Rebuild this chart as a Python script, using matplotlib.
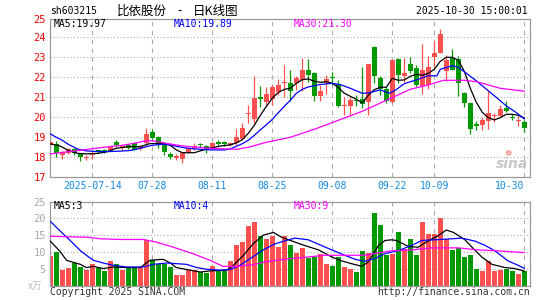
import numpy as np
import matplotlib.pyplot as plt

# 日K线 (2025-07-03 ~ 2025-10-30, 80 trading days)
opens = [18.60, 18.68, 18.12, 18.23, 18.40, 18.17, 17.98, 18.12, 18.33, 18.36,
         18.33, 18.78, 18.45, 18.60, 18.73, 18.40, 18.70, 19.28, 19.03, 18.62,
         18.17, 17.95, 17.93, 18.23, 18.48, 18.63, 18.57, 18.48, 18.78, 18.77,
         18.62, 18.70, 18.92, 20.15, 19.90, 21.03, 20.78, 20.90, 21.28, 21.70,
         21.72, 21.70, 21.87, 22.37, 22.20, 21.08, 21.70, 22.02, 21.65, 20.55,
         20.58, 20.85, 20.92, 20.78, 23.52, 21.97, 21.42, 20.75, 22.92, 22.05,
         22.68, 22.45, 21.58, 21.62, 23.03, 23.20, 22.33, 22.95, 22.92, 21.22,
         20.72, 19.67, 19.62, 19.83, 20.05, 20.05, 20.45, 20.00, 19.80, 19.78]
highs = [18.95, 18.80, 18.32, 18.45, 18.45, 18.20, 18.12, 18.35, 18.38, 18.42,
         18.55, 18.87, 18.62, 18.65, 18.75, 18.60, 19.45, 19.42, 19.07, 18.65,
         18.28, 18.17, 18.22, 18.53, 18.70, 18.70, 18.60, 18.75, 18.87, 18.80,
         18.75, 19.42, 19.70, 20.60, 22.08, 21.57, 21.53, 21.60, 21.90, 22.60,
         22.37, 22.05, 22.98, 22.90, 22.28, 21.62, 22.12, 22.25, 21.87, 21.00,
         21.00, 21.10, 22.53, 22.67, 23.55, 22.08, 21.52, 22.92, 22.97, 22.98,
         23.00, 22.62, 23.67, 23.07, 23.83, 24.42, 23.10, 23.40, 23.05, 21.25,
         20.78, 19.80, 20.00, 21.33, 20.22, 20.62, 20.83, 20.17, 20.08, 19.87]
lows = [18.40, 18.03, 17.90, 18.18, 18.12, 17.83, 17.87, 17.90, 18.20, 18.22,
        18.30, 18.53, 18.37, 18.40, 18.35, 18.37, 18.62, 18.90, 18.45, 18.12,
        17.90, 17.87, 17.73, 18.20, 18.37, 18.50, 18.20, 18.45, 18.55, 18.55,
        18.55, 18.62, 18.85, 19.70, 19.70, 20.53, 20.60, 20.62, 21.10, 21.00,
        20.80, 21.35, 21.30, 21.78, 20.80, 20.80, 21.15, 21.60, 20.53, 20.12,
        20.10, 20.55, 20.48, 20.10, 21.70, 21.12, 20.70, 20.70, 21.72, 21.75,
        22.20, 21.52, 21.17, 21.40, 22.58, 23.20, 21.83, 22.35, 21.08, 20.50,
        19.17, 19.35, 19.35, 19.42, 19.75, 20.05, 20.27, 19.85, 19.57, 19.25]
closes = [18.75, 18.23, 18.28, 18.40, 18.20, 18.03, 18.02, 18.22, 18.30, 18.33,
          18.53, 18.60, 18.57, 18.48, 18.37, 18.57, 19.17, 18.95, 18.73, 18.28,
          18.00, 18.07, 18.20, 18.45, 18.57, 18.60, 18.40, 18.73, 18.67, 18.68,
          18.70, 19.00, 19.47, 20.22, 20.95, 20.92, 21.18, 21.53, 21.62, 21.78,
          21.30, 21.95, 22.37, 22.12, 21.08, 21.32, 21.92, 21.97, 20.57, 20.62,
          20.87, 20.80, 20.65, 22.65, 22.05, 21.40, 20.83, 22.88, 22.10, 22.20,
          22.33, 21.62, 22.37, 22.50, 23.20, 24.17, 22.88, 22.38, 21.72, 20.72,
          19.42, 19.58, 19.88, 20.20, 20.10, 20.42, 20.33, 19.97, 19.83, 19.47]

# 成交量 (万手)
volumes = [8.7, 9.95, 4.56, 5.35, 6.7, 5.5, 4.56, 6.3, 5.35, 4.26,
           7.2, 6.3, 4.56, 5.5, 5.5, 5.35, 13.6, 7.7, 6.5, 6.3,
           5.5, 3.1, 3.1, 4.56, 4.75, 4.0, 3.7, 5.7, 4.56, 4.35,
           7.2, 12.2, 12.9, 17.8, 19.0, 14.6, 13.7, 14.8, 11.4, 14.85,
           12.2, 9.7, 11.1, 8.2, 8.5, 9.3, 6.3, 5.7, 8.5, 5.5,
           4.85, 4.0, 10.4, 9.7, 21.7, 18.0, 9.0, 9.46, 15.8, 10.9,
           13.7, 9.0, 18.8, 15.3, 15.3, 19.95, 13.7, 10.6, 11.2, 8.5,
           9.0, 5.05, 4.35, 7.3, 4.35, 4.56, 5.05, 4.35, 3.4, 4.26]

# 均线 (读图得到的节点)
ma5_pos = [0, 1.5, 3, 4.5, 6, 8, 9.5, 11, 13, 15, 16.5, 19, 20, 21, 22, 24, 25, 26.5, 28.5, 30,
           31, 32, 33, 34, 35, 36, 37, 38, 39, 40, 41, 42, 43, 44, 45, 46, 47, 48, 49, 50,
           51, 52, 53, 54, 55, 56, 57, 58, 59, 60, 61, 62, 63, 64, 65, 66, 67, 68, 69, 70,
           71, 72, 73, 74, 75, 76, 77, 78, 79]
ma5_val = [18.67, 18.58, 18.35, 18.2, 18.17, 18.2, 18.28, 18.45, 18.53, 18.53, 18.68, 18.7, 18.6, 18.37,
           18.23, 18.23, 18.32, 18.45, 18.57, 18.62, 18.72, 18.88, 19.2, 19.6, 20.1, 20.54, 20.96, 21.24,
           21.4, 21.45, 21.7, 21.88, 21.92, 21.8, 21.75, 21.78, 21.7, 21.5, 21.2, 21.05, 20.9, 20.72,
           21.1, 21.38, 21.5, 21.5, 21.95, 21.85, 21.87, 22.05, 22.15, 22.1, 22.2, 22.4, 22.8, 23.0,
           23.0, 22.85, 22.3, 21.45, 20.75, 20.25, 19.98, 19.87, 19.98, 20.15, 20.15, 20.1, 19.97]
ma10_pos = [0, 1, 2, 3, 4.5, 6, 7, 9, 11, 13, 14, 15, 16, 17, 18.5, 20, 21, 22.5, 24, 26.5,
            29, 30, 31, 32, 33, 34, 35, 36, 37, 38, 39, 40, 41, 42, 43, 44, 45, 47, 48.5, 50,
            52, 53, 55, 56.5, 57.5, 59, 61, 63, 64.4, 65, 67, 68, 69, 70.8, 72.5, 74.2, 76, 77.6, 79]
ma10_val = [19.17, 19.0, 18.85, 18.65, 18.42, 18.32, 18.3, 18.28, 18.3, 18.33, 18.38, 18.45, 18.53,
            18.6, 18.65, 18.62, 18.55, 18.47, 18.42, 18.37, 18.37, 18.42, 18.55, 18.68, 18.85, 19.1,
            19.37, 19.62, 19.9, 20.23, 20.55, 20.85, 21.2, 21.4, 21.52, 21.58, 21.64, 21.7, 21.62,
            21.45, 21.2, 21.22, 21.37, 21.2, 21.35, 21.68, 21.87, 22.08, 22.07, 22.4, 22.58, 22.5,
            22.28, 21.87, 21.45, 21.03, 20.57, 20.25, 19.92]
ma30_pos = [0, 3, 5, 7, 9.5, 12, 14, 15.5, 17, 19.3, 22, 26.5, 31, 33, 36, 40, 44, 48, 52, 56,
            60, 63, 65.5, 69, 71, 73, 75, 77, 79]
ma30_val = [18.17, 18.28, 18.35, 18.43, 18.52, 18.6, 18.7, 18.8, 18.83, 18.7, 18.57, 18.45, 18.4,
            18.5, 18.75, 19.0, 19.4, 19.85, 20.3, 20.85, 21.4, 21.62, 21.85, 21.85, 21.78, 21.62,
            21.45, 21.38, 21.3]

vma5_pos = [0, 1.6, 2.7, 5, 6, 7.2, 8.8, 10.5, 12.7, 15, 16.6, 18.8, 20, 21, 23.3, 25, 26.6, 29.4,
            30.5, 32.2, 33.8, 35.5, 37.2, 38.5, 40.8, 42.4, 44.7, 46.9, 48.6, 50.2, 51.9, 53, 54.7,
            55.8, 56.9, 57.7, 59.7, 61.3, 63.3, 64.7, 66, 67.2, 69.1, 70.5, 71.9, 73.6, 75.8, 77.4, 79]
vma5_val = [13.2, 10.2, 7.5, 6.3, 5.35, 5.7, 5.05, 5.5, 5.35, 5.35, 7.5, 7.8, 6.7, 5.35, 4.56, 4.0,
            4.35, 4.56, 6.0, 9.0, 12.4, 15.0, 15.8, 14.4, 12.9, 11.9, 10.6, 8.5, 7.3, 6.5, 5.7, 7.0,
            11.9, 13.4, 13.6, 13.4, 11.6, 11.4, 13.6, 14.85, 16.5, 15.8, 13.6, 11.0, 8.5, 6.3, 5.35,
            5.05, 4.3]
vma10_pos = [0, 1.6, 3.3, 5, 6, 7.2, 8.8, 10.5, 12.7, 15.5, 17.2, 19.4, 21, 22.7, 24.4, 26, 28.3,
             30, 31.6, 33.3, 35.5, 37.3, 39.7, 40.8, 43, 45.2, 46.9, 49.1, 50.8, 52.4, 54.1, 55.8,
             58, 60.2, 61.9, 64.1, 66.9, 68.6, 70.8, 72.5, 74.2, 76.3, 78, 79]
vma10_val = [19.1, 16.3, 13.4, 10.4, 9.0, 7.5, 6.7, 6.0, 5.5, 5.5, 6.3, 6.7, 6.5, 6.3, 5.35, 4.85,
             4.56, 4.75, 6.0, 8.0, 10.6, 12.3, 13.6, 14.1, 13.6, 11.9, 10.6, 9.0, 7.8, 7.2, 8.0, 9.5,
             10.4, 11.9, 13.4, 13.6, 13.9, 14.1, 13.2, 11.9, 10.2, 7.3, 6.0, 5.1]
vma30_pos = [0, 3, 6.5, 8.3, 11.6, 15.5, 17.7, 20.5, 23.8, 26.6, 28.8, 31, 33.8, 36, 39.1, 41.3,
             45.8, 52.4, 54.7, 56.9, 60.2, 63.6, 68, 71.3, 74.7, 78, 79]
vma30_val = [14.65, 14.5, 14.35, 13.9, 13.7, 13.7, 12.9, 11.4, 9.46, 7.5, 5.7, 5.7, 6.2, 7.1, 7.8,
             8.2, 9.0, 9.0, 9.7, 10.3, 10.6, 11.2, 11.2, 10.6, 10.3, 9.9, 9.8]

date_pos = [7, 17, 27, 37, 47, 57, 64, 79]
date_labels = ["2025-07-14", "07-28", "08-11", "08-25", "09-08", "09-22", "10-09", "10-30"]

RED = "#ff5050"
GREEN = "#009900"
GRID = "#aaaaaa"
MONO = "DejaVu Sans Mono"
CJK = ["Noto Sans CJK SC", "DejaVu Sans"]
W, H = 545, 300


def fx(x):  # 像素 -> figure坐标
    return x / W


def fy(y):
    return 1 - y / H


def style_axes(ax):
    for s in ax.spines.values():
        s.set_color("#999999")
        s.set_linewidth(0.9)
    ax.set_xlim(-0.05, 79.95)
    for p in date_pos:
        ax.axvline(p, color=GRID, lw=0.8, ls=(0, (4, 4)), zorder=0)


def draw_chart():
    fig = plt.figure(figsize=(W / 100, H / 100), dpi=100)
    ax1 = fig.add_axes([fx(50), fy(177.3), fx(480), (177.3 - 19) / H])
    ax2 = fig.add_axes([fx(50), fy(285.5), fx(480), (285.5 - 201.5) / H])

    idx = np.arange(len(closes))
    o = np.array(opens)
    c = np.array(closes)
    up = c >= o
    colors = [RED if u else GREEN for u in up]

    # K线
    style_axes(ax1)
    top = 17 + (177.3 - 19) / 20
    ax1.set_ylim(17, top)
    for lv in range(18, 25):
        ax1.axhline(lv, color=GRID, lw=0.8, ls=(0, (1, 2)), zorder=0)
    ax1.vlines(idx, lows, highs, colors=colors, lw=0.9, zorder=2)
    body = np.maximum(np.abs(c - o), 0.05)
    ax1.bar(idx, body, bottom=np.minimum(o, c), width=0.8, color=colors, lw=0, zorder=3)
    ax1.plot(ma5_pos, ma5_val, color="black", lw=0.9, zorder=4)
    ax1.plot(ma10_pos, ma10_val, color="#0000ff", lw=0.9, zorder=4)
    ax1.plot(ma30_pos, ma30_val, color="#ff00ff", lw=0.9, zorder=4)
    ax1.set_yticks(list(range(17, 25)) + [top])
    ax1.set_yticklabels([str(v) for v in range(17, 26)], color="#ee0000",
                        fontsize=7.5, family=MONO)
    ax1.set_xticks(date_pos)
    labs = ax1.set_xticklabels(date_labels, color="#1188dd", fontsize=7, family=MONO)
    labs[-1].set_horizontalalignment("right")  # 最后一个日期靠右, 不出框
    ax1.tick_params(length=0, pad=3)

    # 成交量
    style_axes(ax2)
    ax2.set_ylim(0, 25)
    for lv in [5, 10, 15, 20]:
        ax2.axhline(lv, color=GRID, lw=0.8, ls=(0, (1, 2)), zorder=0)
    ax2.bar(idx, volumes, width=0.75, color=colors, lw=0, zorder=2)
    ax2.plot(vma5_pos, vma5_val, color="black", lw=0.9, zorder=4)
    ax2.plot(vma10_pos, vma10_val, color="#0000ff", lw=0.9, zorder=4)
    ax2.plot(vma30_pos, vma30_val, color="#ff00ff", lw=0.9, zorder=4)
    ax2.set_yticks([5, 10, 15, 20, 25])
    ax2.set_yticklabels(["5", "10", "15", "20", "25"], color="#aaaaaa",
                        fontsize=7.5, family=MONO)
    ax2.set_xticks([])
    ax2.tick_params(length=0, pad=3)

    # 文字
    fig.text(fx(50), fy(11), "sh603215", fontsize=7, family=MONO, va="center")
    fig.text(fx(117), fy(11), "比依股份", fontsize=9, family=CJK, va="center")
    fig.text(fx(180), fy(11), "-", fontsize=9, family=CJK, va="center", ha="center")
    fig.text(fx(193), fy(11), "日K线图", fontsize=9, family=CJK, va="center")
    fig.text(fx(528), fy(11), "2025-10-30 15:00:01", fontsize=7, family=MONO,
             va="center", ha="right")
    fig.text(fx(54), fy(24), "MA5:19.97", fontsize=7, family=MONO, va="center", color="black")
    fig.text(fx(174), fy(24), "MA10:19.89", fontsize=7, family=MONO, va="center", color="#0000ff")
    fig.text(fx(294), fy(24), "MA30:21.30", fontsize=7, family=MONO, va="center", color="#ff00ff")
    fig.text(fx(54), fy(206), "MA5:3", fontsize=7, family=MONO, va="center", color="black")
    fig.text(fx(174), fy(206), "MA10:4", fontsize=7, family=MONO, va="center", color="#0000ff")
    fig.text(fx(294), fy(206), "MA30:9", fontsize=7, family=MONO, va="center", color="#ff00ff")
    fig.text(fx(28), fy(286), "x万", fontsize=7, family=CJK, va="center", color="#bbbbbb")
    fig.text(fx(50), fy(292), "Copyright 2025 SINA.COM", fontsize=7, family=MONO,
             va="center", color="#333333")
    fig.text(fx(530), fy(292), "http://finance.sina.com.cn", fontsize=7, family=MONO,
             va="center", ha="right", color="#333333")
    # sina 水印
    fig.text(fx(512), fy(164), "sina", fontsize=10, weight="bold", style="italic",
             color="#bbbbbb", ha="center", va="center", alpha=0.8)
    fig.text(fx(508), fy(153), "●", fontsize=6, color="#f4b0b0", ha="center", va="center")

    fig.savefig("out.png", dpi=100)


if __name__ == "__main__":
    draw_chart()
